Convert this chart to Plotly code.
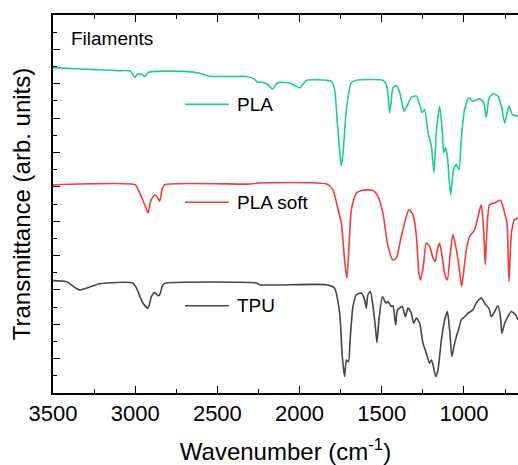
import plotly.graph_objects as go

# ---------------- data ----------------
pla_wn = [3500, 3300, 3100, 3030, 3003, 2985, 2960, 2942, 2920, 2881, 2700, 2600, 2547, 2400,
          2322, 2280, 2255, 2243, 2200, 2164, 2140, 2121, 2060, 2030, 1999, 1980, 1957, 1835,
          1805, 1787, 1769, 1755, 1746, 1735, 1715, 1685, 1653, 1494, 1472, 1460, 1452, 1442,
          1432, 1411, 1391, 1375, 1365, 1341, 1320, 1289, 1269, 1255, 1239, 1219, 1198, 1182,
          1168, 1148, 1131, 1123, 1113, 1101, 1081, 1063, 1046, 1030, 1016, 996, 969, 945, 904,
          880, 864, 848, 824, 793, 772, 752, 726, 705, 671]
pla_t = [9.47, 9.42, 9.38, 9.37, 9.18, 9.28, 9.27, 9.21, 9.33, 9.36, 9.36, 9.30, 9.22, 9.21,
         9.21, 9.15, 9.04, 9.05, 9.00, 8.85, 9.00, 9.04, 9.02, 8.95, 8.88, 8.98, 9.10, 9.10,
         9.07, 8.83, 7.80, 7.00, 6.60, 7.00, 8.25, 9.03, 9.10, 9.10, 8.98, 8.60, 8.15, 8.50,
         8.88, 8.95, 8.75, 8.40, 8.20, 8.40, 8.61, 8.64, 8.40, 8.16, 8.25, 7.58, 7.18, 6.41,
         7.58, 8.35, 7.58, 6.99, 7.14, 6.89, 5.77, 6.50, 6.65, 6.50, 7.38, 8.25, 8.59, 8.49, 8.56,
         8.45, 8.03, 8.56, 8.71, 8.64, 8.35, 7.86, 8.35, 8.10, 8.06]

soft_wn = [3500, 3000, 2985, 2955, 2940, 2922, 2905, 2880, 2865, 2851, 2835, 2820, 2300, 2250,
           1835, 1797, 1766, 1746, 1726, 1712, 1699, 1685, 1654, 1616, 1555, 1523, 1493, 1462,
           1432, 1411, 1381, 1350, 1334, 1310, 1289, 1274, 1263, 1245, 1229, 1209, 1188, 1174,
           1162, 1148, 1131, 1116, 1101, 1083, 1067, 1046, 1030, 1014, 1000, 985, 965, 935, 904,
           894, 880, 870, 860, 844, 814, 778, 752, 738, 726, 711, 692, 671]
soft_t = [6.06, 6.06, 5.95, 5.63, 5.45, 5.24, 5.60, 5.77, 5.70, 5.58, 5.95, 6.06, 6.08, 6.11,
          6.08, 5.92, 5.34, 4.96, 3.87, 3.34, 4.27, 5.34, 5.82, 5.90, 5.90, 5.72, 5.24, 4.27,
          3.87, 3.93, 4.56, 5.14, 5.34, 5.19, 4.56, 3.49, 3.29, 3.78, 4.36, 4.27, 3.93, 3.83,
          4.17, 4.36, 3.93, 3.44, 3.29, 4.07, 4.61, 4.17, 3.68, 3.10, 3.59, 4.17, 4.56, 4.75, 5.34,
          5.48, 4.75, 3.73, 4.75, 5.48, 5.53, 5.61, 5.24, 4.95, 3.24, 4.66, 5.04, 5.09]

tpu_wn = [3500, 3418, 3338, 3216, 3015, 2993, 2953, 2922, 2901, 2881, 2861, 2851, 2831, 2810,
          2261, 2243, 1835, 1787, 1756, 1740, 1726, 1715, 1703, 1691, 1675, 1654, 1624, 1604,
          1594, 1584, 1569, 1553, 1537, 1529, 1517, 1496, 1476, 1462, 1442, 1432, 1415, 1405,
          1391, 1375, 1356, 1341, 1320, 1306, 1289, 1269, 1249, 1229, 1209, 1198, 1188, 1172,
          1158, 1137, 1117, 1101, 1087, 1073, 1061, 1046, 1030, 1016, 996, 976, 945, 925, 894,
          868, 848, 833, 813, 793, 778, 769, 752, 732, 712, 685, 671]
tpu_t = [3.27, 3.24, 3.00, 3.18, 3.20, 3.06, 2.62, 2.47, 2.81, 2.92, 2.83, 2.86, 3.15, 3.20,
         3.20, 3.15, 3.15, 3.05, 2.32, 1.06, 0.48, 0.96, 0.91, 1.64, 2.52, 2.86, 2.91, 2.71,
         2.47, 2.86, 2.95, 2.52, 1.84, 1.47, 2.13, 2.81, 2.62, 2.66, 2.52, 2.54, 1.98, 2.42,
         2.47, 2.52, 2.22, 2.47, 2.32, 2.03, 2.18, 2.03, 1.45, 1.16, 0.87, 0.96, 0.82, 0.48,
         0.67, 1.55, 2.13, 2.37, 1.84, 1.06, 1.35, 1.64, 1.89, 2.13, 2.22, 2.32, 2.42, 2.62, 2.76,
         2.57, 2.47, 2.22, 2.37, 2.54, 2.22, 1.74, 2.03, 2.22, 2.37, 2.27, 2.13]

series_names = ["PLA", "PLA soft", "TPU"]
series_colors = ["#1dcf8c", "#f53b3b", "#454545"]
label_y = [8.40, 5.55, 2.54]

x_range = [3500, 671]
y_range = [0, 11]

FONT = "Liberation Sans, Arial, sans-serif"

fig = go.Figure()
for wn, t, name, col in zip([pla_wn, soft_wn, tpu_wn], [pla_t, soft_t, tpu_t],
                            series_names, series_colors):
    fig.add_trace(go.Scatter(x=wn, y=t, mode="lines", name=name,
                             line=dict(color=col, width=1.6, shape="spline", smoothing=0.6),
                             showlegend=False))

# in-plot legend entries
for name, col, ly in zip(series_names, series_colors, label_y):
    fig.add_shape(type="line", xref="x", yref="y", x0=2697, x1=2430, y0=ly, y1=ly,
                  line=dict(color=col, width=1.6))
    fig.add_annotation(x=2393, y=ly, xref="x", yref="y", text=name, showarrow=False,
                       xanchor="left", yanchor="middle",
                       font=dict(family=FONT, size=19, color="black"))

fig.add_annotation(x=3404, y=10.32, xref="x", yref="y", text="Filaments", showarrow=False,
                   xanchor="left", yanchor="middle",
                   font=dict(family=FONT, size=19, color="black"))

fig.update_layout(
    width=518, height=465,
    margin=dict(l=53, r=0, t=15, b=72),
    paper_bgcolor="white", plot_bgcolor="white",
    font=dict(family=FONT, color="black"),
    xaxis=dict(range=x_range, dtick=500, tick0=0, ticks="inside", ticklen=7, tickwidth=1.3,
               tickcolor="black", showline=True, linecolor="black", linewidth=1.5,
               mirror="ticks", showgrid=False, zeroline=False,
               tickfont=dict(family=FONT, size=22, color="black"),
               minor=dict(dtick=250, tick0=0, ticks="inside", ticklen=4, tickwidth=1.3,
                          tickcolor="black", showgrid=False),
               title=dict(text="Wavenumber (cm<sup>-1</sup>)", standoff=19,
                          font=dict(family=FONT, size=24, color="black"))),
    yaxis=dict(range=y_range, dtick=1, tick0=0, ticks="inside", ticklen=7, tickwidth=1.3,
               tickcolor="black", showline=True, linecolor="black", linewidth=1.5,
               showticklabels=False, showgrid=False, zeroline=False,
               minor=dict(dtick=0.5, tick0=0, ticks="inside", ticklen=4, tickwidth=1.3,
                          tickcolor="black", showgrid=False),
               title=dict(text="Transmittance (arb. units)", standoff=14,
                          font=dict(family=FONT, size=24, color="black"))),
    yaxis2=dict(range=y_range, overlaying="y", side="right", dtick=1, tick0=0,
                ticks="inside", ticklen=7, tickwidth=1.3, tickcolor="black",
                showline=False, showticklabels=False, showgrid=False, zeroline=False,
                minor=dict(dtick=0.5, tick0=0, ticks="inside", ticklen=4, tickwidth=1.3,
                           tickcolor="black", showgrid=False)),
)

fig.write_html("out.html")
